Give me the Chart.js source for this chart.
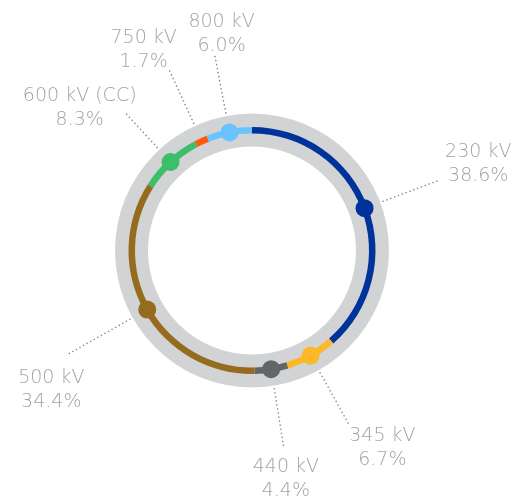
<!DOCTYPE html>
<html>
<head>
  <meta charset="utf-8">
  <title>Voltage share ring</title>
  <script src="https://cdn.jsdelivr.net/npm/chart.js"></script>
  <style>
    html, body { margin: 0; padding: 0; background: #fff; }
    #wrap { width: 514px; height: 499px; position: relative; }
  </style>
</head>
<body>
  <div id="wrap"><canvas id="ring"></canvas></div>

  <script>
    // data
    const voltages = ['230 kV', '345 kV', '440 kV', '500 kV', '600 kV (CC)', '750 kV', '800 kV'];
    const shares = [38.6, 6.7, 4.4, 34.4, 8.3, 1.7, 6.0];

    const segmentColors = ['#003399', '#fdb827', '#646567', '#956c1e', '#3dbe6a', '#ff5a0a', '#69c3ff'];

    // label block centre relative to end of leader line, and leader length
    const labelLayout = [
      { dx: 39, dy: -18, len: 200 },
      { dx: 33, dy: 21, len: 200 },
      { dx: 2, dy: 29, len: 200 },
      { dx: -16, dy: 33, len: 212 },
      { dx: -45, dy: -6, len: 188 },
      { dx: -25, dy: -21, len: 200 },
      { dx: 7, dy: -22, len: 200 }
    ];

    const DOT_R = 9;

    const ringBack = {
      id: 'ringBack',
      beforeDatasetsDraw(chart) {
        const arc = chart.getDatasetMeta(0).data[0];
        if (!arc) return;
        const ctx = chart.ctx;
        ctx.save();
        ctx.fillStyle = '#d1d3d4';
        ctx.beginPath();
        ctx.arc(arc.x, arc.y, 137, 0, Math.PI * 2);
        ctx.arc(arc.x, arc.y, 104, 0, Math.PI * 2, true);
        ctx.fill();
        ctx.restore();
      }
    };

    const dotsAndLabels = {
      id: 'dotsAndLabels',
      afterDatasetsDraw(chart) {
        const ctx = chart.ctx;
        const meta = chart.getDatasetMeta(0);
        meta.data.forEach((arc, i) => {
          const p = arc.getProps(['x', 'y', 'startAngle', 'endAngle', 'innerRadius', 'outerRadius'], true);
          const a = (p.startAngle + p.endAngle) / 2;
          const cos = Math.cos(a), sin = Math.sin(a);
          const r = (p.innerRadius + p.outerRadius) / 2;
          const lay = labelLayout[i];

          // leader line
          ctx.save();
          ctx.strokeStyle = '#8e8e8e';
          ctx.lineWidth = 1.6;
          ctx.lineCap = 'round';
          ctx.setLineDash([0.1, 4]);
          ctx.beginPath();
          ctx.moveTo(p.x + cos * 140, p.y + sin * 140);
          const ex = p.x + cos * lay.len, ey = p.y + sin * lay.len;
          ctx.lineTo(ex, ey);
          ctx.stroke();
          ctx.restore();

          // dot on the ring, only where the segment is long enough to hold it
          if ((p.endAngle - p.startAngle) * r >= DOT_R * 2) {
            ctx.save();
            ctx.fillStyle = segmentColors[i];
            ctx.beginPath();
            ctx.arc(p.x + cos * r, p.y + sin * r, DOT_R, 0, Math.PI * 2);
            ctx.fill();
            ctx.restore();
          }

          // label text
          const cx = ex + lay.dx, cy = ey + lay.dy;
          ctx.save();
          ctx.fillStyle = '#a3a3a3';
          ctx.font = '200 19px "DejaVu Sans ExtraLight", "DejaVu Sans"';
          ctx.textAlign = 'center';
          ctx.textBaseline = 'alphabetic';
          ctx.fillText(voltages[i], cx, cy - 12 + 7);
          ctx.fillText(shares[i].toFixed(1) + '%', cx, cy + 12 + 7);
          ctx.restore();
        });
      }
    };

    const outerR = 123.5;
    const innerR = 117;

    new Chart(document.getElementById('ring'), {
      type: 'doughnut',
      data: {
        labels: voltages,
        datasets: [{
          data: shares,
          backgroundColor: segmentColors,
          borderWidth: 0
        }]
      },
      options: {
        responsive: true,
        maintainAspectRatio: false,
        animation: false,
        radius: outerR,
        cutout: (innerR / outerR * 100) + '%',
        layout: { padding: { left: 0, right: 10, top: 2, bottom: 0 } },
        plugins: {
          legend: { display: false },
          tooltip: { enabled: false }
        }
      },
      plugins: [ringBack, dotsAndLabels]
    });
  </script>
</body>
</html>
